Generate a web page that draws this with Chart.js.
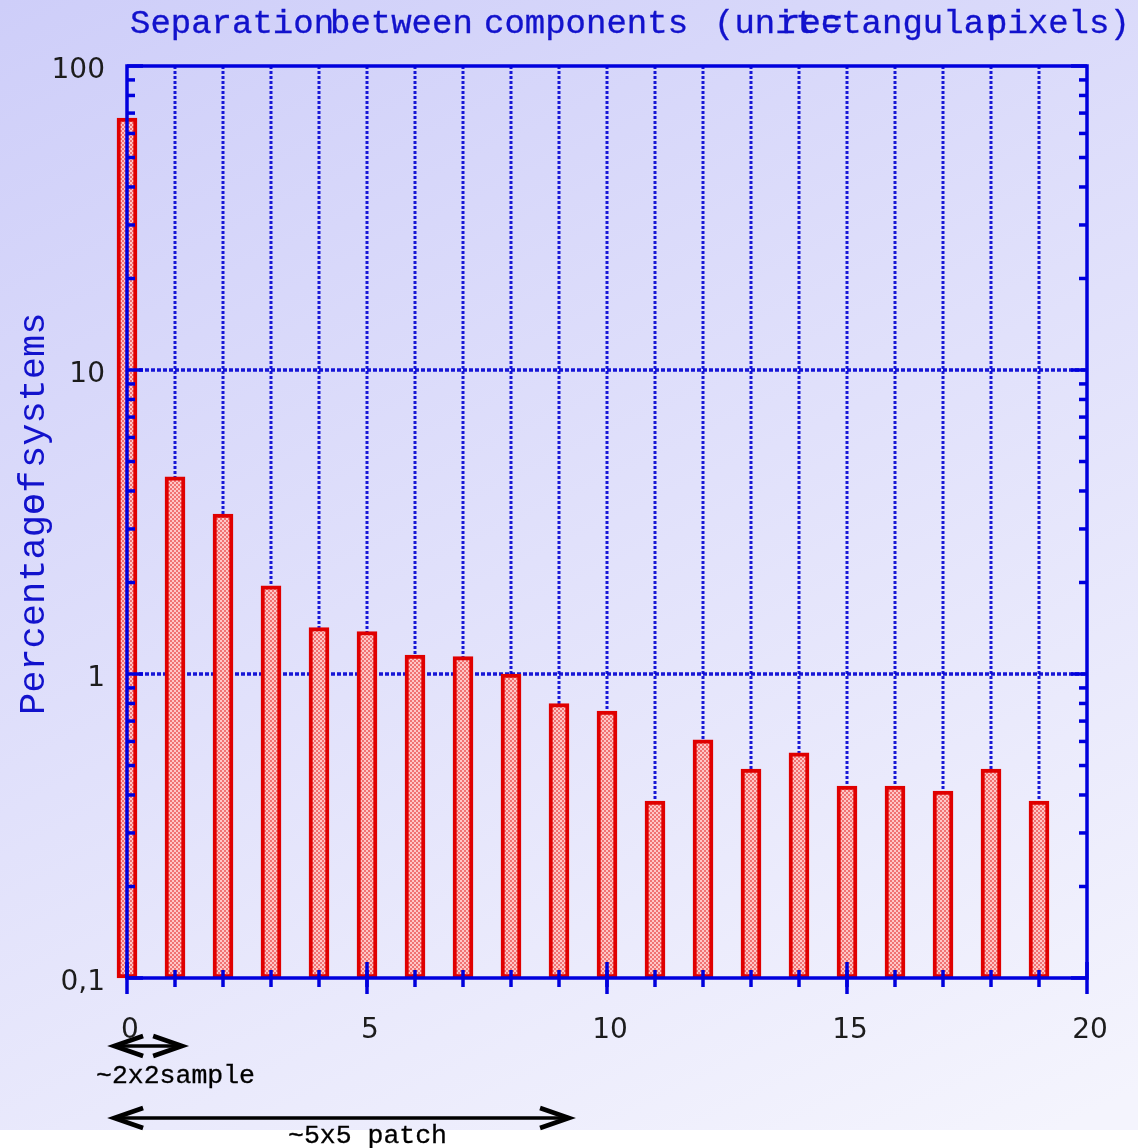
<!DOCTYPE html>
<html>
<head>
<meta charset="utf-8">
<script src="https://cdn.jsdelivr.net/npm/chart.js@4.4.1/dist/chart.umd.min.js"></script>
<style>
  html, body { margin: 0; padding: 0; background: #fff; overflow: hidden; }
  canvas { display: block; }
</style>
</head>
<body>
<canvas id="sepChart" width="1138" height="1148"></canvas>
<script>
// Separation between components (rectangular pixels)
const separations = [0, 1, 2, 3, 4, 5, 6, 7, 8, 9, 10, 11, 12, 13, 14, 15, 16, 17, 18, 19];
// Percentage of systems at each separation
const percentages = [67.4, 4.45, 3.36, 1.95, 1.42, 1.38, 1.155, 1.14, 1.0, 0.80, 0.755, 0.382,
                     0.607, 0.487, 0.55, 0.428, 0.428, 0.412, 0.487, 0.382];

const xTickValues = [0, 5, 10, 15, 20];
const yTickValues = [0.1, 1, 10, 100];
const yTickLabels = ['0,1', '1', '10', '100'];

const titleWords = ['Separation', 'between', 'components', '(unit', '=', 'rectangular', 'pixels)'];
const yTitleWords = ['Percentage', 'of', 'systems'];

// size markers under the x axis: [from, to] in separation units
const spanLabels = ['~2x2sample', '~5x5 patch'];
const spanEnds = [[-0.29, 1.17], [-0.29, 9.23]];

// layout of the hand-placed texts
const titleX = [130, 330, 484, 714, 822, 780, 987];
const yTitleY = [715, 515, 468];
const spanY = [1046, 1118];
const spanLabelPos = [[96, 1083], [288, 1143]];

const AXIS_BLUE = '#0000dd';
const GRID_BLUE = 'rgba(0,0,210,0.9)';
const TITLE_BLUE = '#1212cc';

function makeChecker() {
  const c = document.createElement('canvas');
  c.width = 4; c.height = 4;
  const g = c.getContext('2d');
  g.fillStyle = '#f07272';
  g.fillRect(0, 0, 4, 4);
  g.fillStyle = '#ffc6c6';
  g.fillRect(0, 0, 2, 2);
  g.fillRect(2, 2, 2, 2);
  return g.createPattern(c, 'repeat');
}

function line(ctx, x1, y1, x2, y2) {
  ctx.beginPath();
  ctx.moveTo(x1, y1);
  ctx.lineTo(x2, y2);
  ctx.stroke();
}

function drawArrow(ctx, x1, x2, y) {
  ctx.save();
  ctx.strokeStyle = '#000';
  ctx.lineWidth = 3.5;
  line(ctx, x1 + 2, y, x2 - 2, y);
  ctx.lineWidth = 4.5;
  ctx.lineJoin = 'miter';
  ctx.beginPath();
  ctx.moveTo(x1 + 30, y - 10); ctx.lineTo(x1 + 1, y); ctx.lineTo(x1 + 30, y + 10);
  ctx.moveTo(x2 - 30, y - 10); ctx.lineTo(x2 - 1, y); ctx.lineTo(x2 - 30, y + 10);
  ctx.stroke();
  ctx.restore();
}

function boldText(ctx, text, x, y) {
  ctx.fillText(text, x, y);
  ctx.strokeText(text, x, y);
}

const decorations = {
  id: 'decorations',
  beforeDraw(chart) {
    const ctx = chart.ctx;
    ctx.save();
    const grad = ctx.createLinearGradient(0, 0, 636, 1331);
    grad.addColorStop(0, 'rgb(206,206,249)');
    grad.addColorStop(1, 'rgb(244,244,253)');
    ctx.fillStyle = grad;
    ctx.fillRect(0, 0, chart.width, 1130);
    ctx.fillStyle = '#fff';
    ctx.fillRect(0, 1130, chart.width, chart.height - 1130);
    ctx.restore();
  },
  beforeDatasetsDraw(chart) {
    const ctx = chart.ctx;
    const xs = chart.scales.x, ys = chart.scales.y;
    const area = chart.chartArea;
    ctx.save();
    ctx.strokeStyle = GRID_BLUE;
    ctx.lineWidth = 3;
    ctx.setLineDash([3, 2]);
    for (let v = 1; v < 20; v++) {
      const px = Math.round(xs.getPixelForValue(v));
      line(ctx, px, area.top, px, area.bottom);
    }
    ctx.lineWidth = 3.5;
    ctx.setLineDash([4, 2]);
    [1, 10].forEach(v => {
      const py = Math.round(ys.getPixelForValue(v));
      line(ctx, area.left, py, area.right, py);
    });
    ctx.restore();
  },
  afterDatasetsDraw(chart) {
    const ctx = chart.ctx;
    const xs = chart.scales.x, ys = chart.scales.y;
    const a = chart.chartArea;
    ctx.save();
    ctx.strokeStyle = AXIS_BLUE;
    ctx.lineWidth = 3.5;
    ctx.strokeRect(a.left, a.top, a.right - a.left, a.bottom - a.top);

    // y ticks on both sides, pointing inwards
    [0.1, 1, 10].forEach(dec => {
      for (let m = 2; m <= 9; m++) {
        const py = ys.getPixelForValue(m * dec);
        line(ctx, a.left, py, a.left + 8, py);
        line(ctx, a.right, py, a.right - 8, py);
      }
    });
    yTickValues.forEach(v => {
      const py = ys.getPixelForValue(v);
      line(ctx, a.left, py, a.left + 16, py);
      line(ctx, a.right, py, a.right - 16, py);
    });

    // x ticks crossing the bottom axis
    for (let v = 1; v < 20; v++) {
      const px = xs.getPixelForValue(v);
      line(ctx, px, a.bottom - 8, px, a.bottom + 9);
    }
    xTickValues.forEach(v => {
      const px = xs.getPixelForValue(v);
      line(ctx, px, a.bottom - 16, px, a.bottom + 16);
    });
    ctx.restore();
  },
  afterDraw(chart) {
    const ctx = chart.ctx;
    const xs = chart.scales.x;
    ctx.save();
    ctx.fillStyle = TITLE_BLUE;
    ctx.strokeStyle = TITLE_BLUE;
    ctx.lineWidth = 0.35;
    ctx.font = '34px "Liberation Mono"';
    ctx.textBaseline = 'alphabetic';
    titleWords.forEach((w, i) => boldText(ctx, w, titleX[i], 33));

    ctx.save();
    ctx.font = '37px "Liberation Mono"';
    ctx.translate(44, 0);
    ctx.rotate(-Math.PI / 2);
    yTitleWords.forEach((w, i) => ctx.fillText(w, -yTitleY[i], 0));
    ctx.restore();

    ctx.fillStyle = '#000';
    ctx.strokeStyle = '#000';
    ctx.lineWidth = 0.3;
    ctx.font = '26.5px "Liberation Mono"';
    spanEnds.forEach((e, i) => {
      drawArrow(ctx, xs.getPixelForValue(e[0]), xs.getPixelForValue(e[1]), spanY[i]);
      boldText(ctx, spanLabels[i], spanLabelPos[i][0], spanLabelPos[i][1]);
    });
    ctx.restore();
  }
};

const tickFont = { family: '"DejaVu Sans"', size: 28 };

new Chart(document.getElementById('sepChart'), {
  type: 'bar',
  data: {
    datasets: [{
      data: separations.map((s, i) => ({ x: s, y: percentages[i] })),
      backgroundColor: makeChecker(),
      borderColor: '#e00000',
      borderWidth: 4,
      borderSkipped: false,
      barThickness: 20,
      base: 0.1,
      clip: false
    }]
  },
  options: {
    responsive: false,
    animation: false,
    events: [],
    layout: { padding: { top: 66, right: 51, left: 0, bottom: 0 } },
    plugins: { legend: { display: false }, tooltip: { enabled: false } },
    scales: {
      x: {
        type: 'linear',
        min: 0,
        max: 20,
        offset: false,
        afterBuildTicks: s => { s.ticks = xTickValues.map(v => ({ value: v })); },
        afterFit: s => { s.height = 170; },
        grid: { display: false, offset: false },
        border: { display: false },
        ticks: { font: tickFont, color: '#1c1c1c', padding: 28, labelOffset: 3, maxRotation: 0, autoSkip: false }
      },
      y: {
        type: 'logarithmic',
        min: 0.1,
        max: 100,
        afterBuildTicks: s => { s.ticks = yTickValues.map(v => ({ value: v })); },
        afterFit: s => { s.width = 127; },
        grid: { display: false },
        border: { display: false },
        ticks: {
          font: tickFont,
          color: '#1c1c1c',
          padding: 14,
          labelOffset: 5,
          autoSkip: false,
          callback: (v, i) => yTickLabels[i]
        }
      }
    }
  },
  plugins: [decorations]
});
</script>
</body>
</html>
